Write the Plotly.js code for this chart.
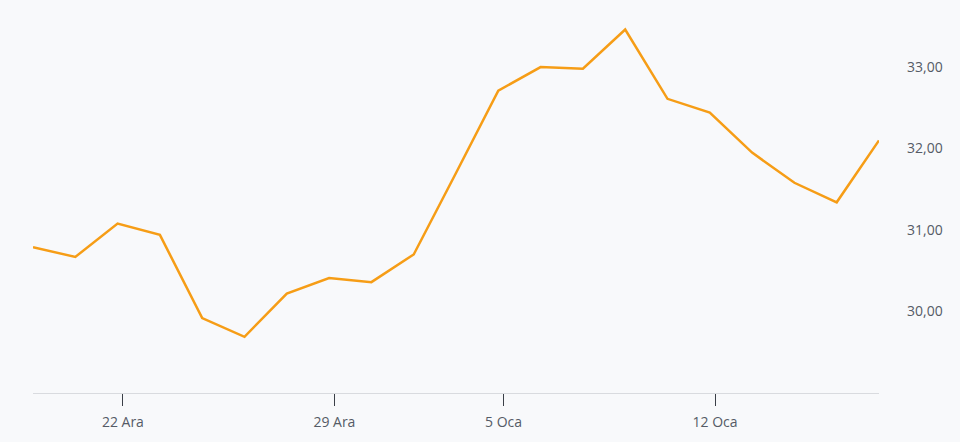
<!DOCTYPE html>
<html>
<head>
<meta charset="utf-8">
<script src="https://cdn.plot.ly/plotly-3.0.1.min.js"></script>
<style>
  html, body { margin: 0; padding: 0; background: #f8f9fb; }
  #chart { width: 960px; height: 442px; }
</style>
</head>
<body>
<div id="chart"></div>
<script>
// Trading days (weekends and 1 Jan skipped)
const dates = [
  "2025-12-18", "2025-12-19", "2025-12-22", "2025-12-23", "2025-12-24",
  "2025-12-25", "2025-12-26", "2025-12-29", "2025-12-30", "2025-12-31",
  "2026-01-02", "2026-01-05", "2026-01-06", "2026-01-07", "2026-01-08",
  "2026-01-09", "2026-01-12", "2026-01-13", "2026-01-14", "2026-01-15",
  "2026-01-16"
];
const prices = [
  30.79, 30.67, 31.08, 30.94, 29.92,
  29.69, 30.22, 30.41, 30.36, 30.70,
  31.70, 32.71, 33.00, 32.98, 33.46,
  32.61, 32.44, 31.95, 31.58, 31.34,
  32.10
];
const tickDates = ["2025-12-22", "2025-12-29", "2026-01-05", "2026-01-12"];
const tickLabels = ["22 Ara", "29 Ara", "5 Oca", "12 Oca"];
const yTicks = [30, 31, 32, 33];
const yTickLabels = ["30,00", "31,00", "32,00", "33,00"];

const xIdx = dates.map((d, i) => i);
// ticks sit at local midnight, points are stamped 3 h earlier (UTC)
const tickOffset = 3 / 24;
const tickVals = tickDates.map(d => dates.indexOf(d) + tickOffset);

const trace = {
  x: xIdx,
  y: prices,
  type: "scatter",
  mode: "lines",
  line: { color: "#f69d16", width: 2.5 },
  hoverinfo: "skip"
};

const layout = {
  width: 960,
  height: 442,
  margin: { l: 33, r: 81, t: 10, b: 49 },
  paper_bgcolor: "#f8f9fb",
  plot_bgcolor: "#f8f9fb",
  showlegend: false,
  font: { family: "Open Sans, Noto Sans, sans-serif", color: "#555b66", size: 14 },
  xaxis: {
    range: [0, dates.length - 1],
    showgrid: false,
    zeroline: false,
    showline: true,
    linecolor: "#d9dbdf",
    linewidth: 1,
    ticks: "outside",
    ticklen: 12,
    tickwidth: 1,
    tickcolor: "#3a3f47",
    tickmode: "array",
    tickvals: tickVals,
    ticktext: tickLabels,
    tickfont: { size: 14, color: "#555b66" },
    ticklabelstandoff: 4,
    fixedrange: true
  },
  yaxis: {
    side: "right",
    range: [29.0, 33.70],
    showgrid: false,
    zeroline: false,
    showline: false,
    ticks: "",
    tickmode: "array",
    tickvals: yTicks,
    ticktext: yTickLabels,
    tickfont: { size: 14, color: "#555b66" },
    ticklabelstandoff: 27,
    fixedrange: true
  }
};

Plotly.newPlot("chart", [trace], layout, { displayModeBar: false, staticPlot: true });
</script>
</body>
</html>
